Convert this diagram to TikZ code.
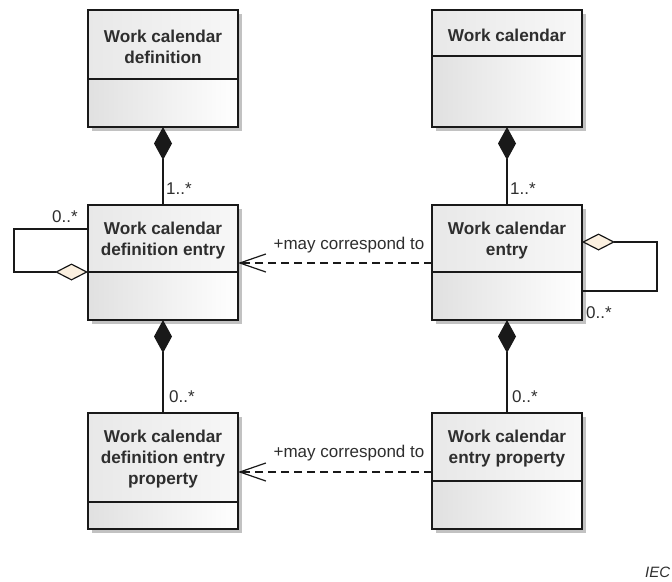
\documentclass[tikz,border=0pt]{standalone}
\usepackage{fontspec}
\setmainfont{Liberation Sans}
\usetikzlibrary{arrows.meta}

\definecolor{inkgray}{HTML}{2E2E2E}
\definecolor{aggfill}{HTML}{FBF0E0}
\definecolor{shadowgray}{HTML}{C2C2C2}

\tikzset{
  boxline/.style={draw=black!90, line width=1.3pt},
  classname/.style={font=\fontsize{17.2}{21}\selectfont\bfseries, text=inkgray,
    align=center, inner sep=0pt},
  mult/.style={font=\fontsize{17}{20}\selectfont, text=inkgray, inner sep=0pt},
  assoc/.style={draw=black!90, line width=1.2pt},
  comp/.style={assoc, -{Diamond[length=33pt,width=18pt]}},
  aggr/.style={assoc, -{Diamond[length=33pt,width=17pt,fill=aggfill]}},
  dep/.style={assoc, dash pattern=on 8pt off 5pt,
    -{Straight Barb[length=26pt,width=18pt]}},
}

% UML class box: name, left, top, right, bottom, divider, title
\newcommand\umlclass[7]{%
  \fill[shadowgray] (#2+4,#3+4) rectangle (#4+4,#5+4);
  \node[inner sep=0pt, outer sep=0pt, minimum width={#4-#2}, minimum height={#5-#3},
        left color=black!12, middle color=white, right color=white]
        (#1) at ({(#2+#4)/2},{(#3+#5)/2}) {};
  \shade[left color=black!9, right color=black!3] (#2,#3) rectangle (#4,#6);
  \draw[boxline] (#2,#3) rectangle (#4,#5);
  \draw[boxline] (#2,#6) -- (#4,#6);
  \node[classname, yshift=-2pt] (#1-title) at ({(#2+#4)/2},{(#3+#6)/2}) {#7};
}

\begin{document}
\begin{tikzpicture}[x=1pt, y=-1pt]
  \useasboundingbox (0,0) rectangle (672,581);

  % classes
  \umlclass{A}{88}{10}{238}{127}{79}{Work calendar\\definition}
  \umlclass{B}{432}{10}{582}{127}{56}{Work calendar}
  \umlclass{C}{88}{205}{238}{320}{272}{Work calendar\\definition entry}
  \umlclass{D}{432}{205}{582}{320}{272}{Work calendar\\entry}
  \umlclass{E}{88}{413}{238}{529}{502}{Work calendar\\definition entry\\property}
  \umlclass{F}{432}{413}{582}{529}{481}{Work calendar\\entry property}

  % compositions
  \draw[comp] (C.north) -- (A.south);
  \draw[comp] (D.north) -- (B.south);
  \draw[comp] (E.north) -- (C.south);
  \draw[comp] (F.north) -- (D.south);

  \node[mult] (m-ac) at (179,189) {1..*};
  \node[mult] (m-bd) at (523,189) {1..*};
  \node[mult] (m-ce) at (182,397) {0..*};
  \node[mult] (m-df) at (525,397) {0..*};

  % recursive aggregations
  \coordinate (cl-top) at (14,229);
  \coordinate (cl-bot) at (14,272);
  \draw[aggr] (C.west |- cl-top) -- (cl-top) -- (cl-bot) -- (C.west |- cl-bot);
  \node[mult] (m-cc) at (65,217) {0..*};

  \coordinate (dl-top) at (657,242);
  \coordinate (dl-bot) at (657,291);
  \draw[aggr] (D.east |- dl-bot) -- (dl-bot) -- (dl-top) -- (D.east |- dl-top);
  \node[mult] (m-dd) at (599,313) {0..*};

  % correspondences
  \coordinate (dep1) at (0,263);
  \draw[dep] (D.west |- dep1) -- (C.east |- dep1);
  \node[mult] (l-dep1) at (349,245) {+may correspond to};

  \coordinate (dep2) at (0,472);
  \draw[dep] (F.west |- dep2) -- (E.east |- dep2);
  \node[mult] (l-dep2) at (349,453) {+may correspond to};

  \node[mult, anchor=west, font=\fontsize{15}{18}\selectfont\itshape] (iec) at (645,572) {IEC};
\end{tikzpicture}
\end{document}
